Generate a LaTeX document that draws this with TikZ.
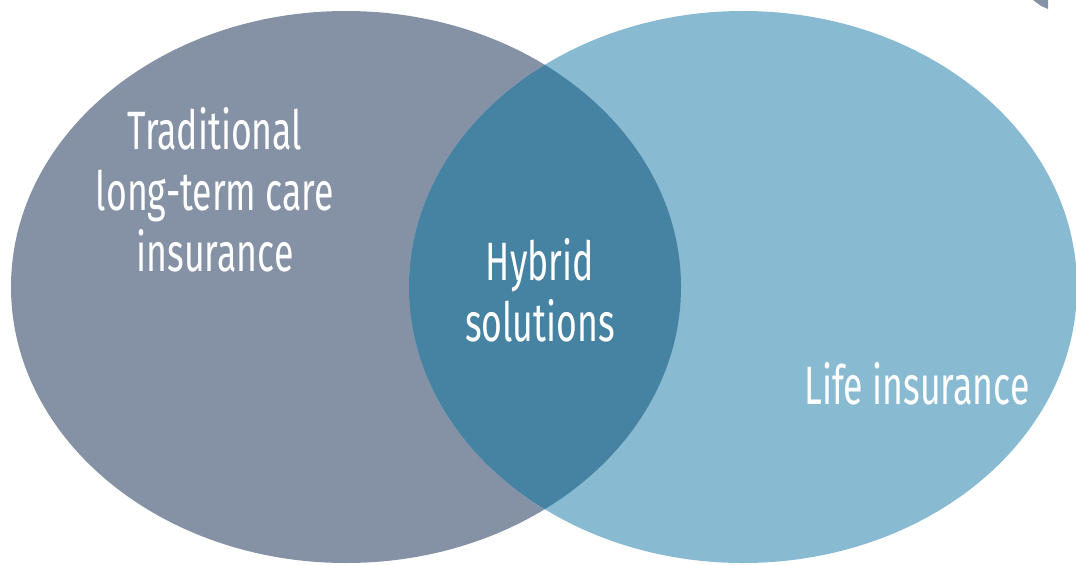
\documentclass[tikz,border=0pt]{standalone}
\usepackage{fontspec}
\newfontfamily\vennfont[FakeStretch=0.66]{Fira Sans}
\usetikzlibrary{positioning}
\definecolor{ltcgray}{HTML}{8592A6}
\definecolor{lifeblue}{HTML}{88BBD2}
\definecolor{hybridblue}{HTML}{4682A2}

\begin{document}
\begin{tikzpicture}[x=0.5pt, y=0.5pt,
  lbl/.style={text=white, align=center, inner sep=0pt,
    font=\vennfont\fontsize{27}{30.5}\selectfont}]
\useasboundingbox (0,0) rectangle (1076,564);
					%%
\coordinate (L) at (346,277);
\coordinate (R) at (743,277);

\fill[ltcgray] (L) ellipse [x radius=167.5pt, y radius=138pt];
\fill[lifeblue] (R) ellipse [x radius=167pt, y radius=138pt];
\begin{scope}
\clip (L) ellipse [x radius=167.5pt, y radius=138pt];
\fill[hybridblue] (R) ellipse [x radius=167pt, y radius=138pt];
\end{scope}

%% corner remnant
\fill[ltcgray] (1033,564) -- (1048,564) -- (1048,555) -- (1041,558) -- cycle;

\node[lbl] (ltc) at (215,374) {Traditional\\long-term care\\insurance};
\node[lbl] (hybrid) at (540,274) {Hybrid\\solutions};
\node[lbl] (life) at (917,180) {Life insurance};
				\end{tikzpicture}
\end{document}
